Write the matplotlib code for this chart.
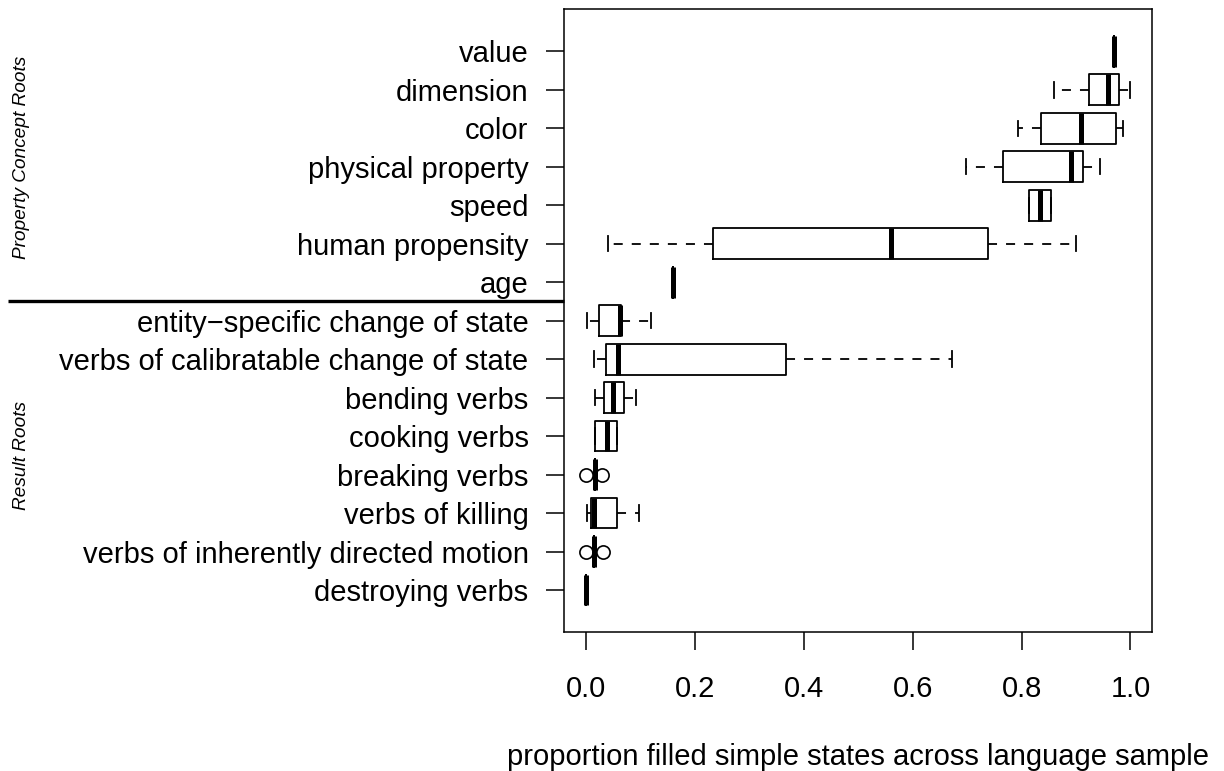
import matplotlib
matplotlib.use('Agg')
import matplotlib.pyplot as plt
from matplotlib.transforms import blended_transform_factory

plt.rcParams['font.family'] = ['Liberation Sans', 'DejaVu Sans']

# categories listed top to bottom
categories = ["value", "dimension", "color", "physical property", "speed",
              "human propensity", "age",
              "entity\u2212specific change of state",
              "verbs of calibratable change of state",
              "bending verbs", "cooking verbs", "breaking verbs",
              "verbs of killing", "verbs of inherently directed motion",
              "destroying verbs"]
whislo = [0.970, 0.860, 0.794, 0.697, 0.813, 0.040, 0.160,
          0.001, 0.015, 0.016, 0.016, 0.017, 0.001, 0.015, 0.000]
q1 =     [0.970, 0.924, 0.836, 0.765, 0.813, 0.234, 0.160,
          0.024, 0.037, 0.033, 0.016, 0.017, 0.009, 0.015, 0.000]
med =    [0.970, 0.958, 0.909, 0.890, 0.833, 0.560, 0.160,
          0.062, 0.058, 0.050, 0.038, 0.017, 0.015, 0.015, 0.000]
q3 =     [0.970, 0.979, 0.973, 0.913, 0.854, 0.738, 0.160,
          0.065, 0.367, 0.070, 0.056, 0.017, 0.057, 0.015, 0.000]
whishi = [0.970, 1.000, 0.986, 0.944, 0.854, 0.900, 0.160,
          0.120, 0.673, 0.092, 0.056, 0.017, 0.098, 0.015, 0.000]
fliers = [[], [], [], [], [], [], [],
          [], [], [], [], [0.0, 0.030], [], [0.0, 0.032], []]
group_labels = ["Property Concept Roots", "Result Roots"]
xticks = [0.0, 0.2, 0.4, 0.6, 0.8, 1.0]
xlabel = "proportion filled simple states across language sample"

fig = plt.figure(figsize=(12.24, 7.71), dpi=100)
ax = fig.add_axes([0.4610, 0.1799, 0.9414 - 0.4610, 0.9883 - 0.1799])

n = len(categories)
positions = list(range(n, 0, -1))
stats = []
for i in range(n):
    stats.append(dict(med=med[i], q1=q1[i], q3=q3[i], whislo=whislo[i],
                      whishi=whishi[i], fliers=fliers[i], label=categories[i]))

lw = 1.3
ax.bxp(stats, positions=positions, widths=0.8, capwidths=0.4,
       orientation='horizontal', showfliers=True,
       boxprops=dict(color='black', linewidth=lw),
       medianprops=dict(color='black', linewidth=3.6, solid_capstyle='butt'),
       whiskerprops=dict(color='black', linewidth=lw, linestyle=(0, (5, 5))),
       capprops=dict(color='black', linewidth=lw),
       flierprops=dict(marker='o', markerfacecolor='none', markeredgecolor='black',
                       markersize=9.5, markeredgewidth=1.2))

ax.set_xlim(-0.04, 1.04)
ax.set_ylim(-0.1, n + 1.1)
ax.set_xticks(xticks)
ax.set_xticklabels([f"{t:.1f}" for t in xticks], fontsize=21)
ax.set_yticks(positions)
ax.set_yticklabels(categories, fontsize=21)
ax.tick_params(axis='x', length=13, width=1.1, pad=18)
ax.tick_params(axis='y', length=12.7, width=1.1, pad=13)
for s in ax.spines.values():
    s.set_linewidth(1.1)

# separator between groups
trans = blended_transform_factory(fig.transFigure, ax.transData)
ax.plot([8 / 1224, 0.4610], [8.5, 8.5], color='black', linewidth=2.4,
        transform=trans, clip_on=False, solid_capstyle='butt')

fig.text(22 / 1224, 1 - 157 / 771, group_labels[0], rotation=90, style='italic',
         fontsize=13.7, ha='center', va='center')
fig.text(22 / 1224, 1 - 456 / 771, group_labels[1], rotation=90, style='italic',
         fontsize=13.7, ha='center', va='center')
fig.text(858 / 1224, 1 - 757 / 771, xlabel, fontsize=21, ha='center', va='center')

fig.savefig('out.png', dpi=100)
